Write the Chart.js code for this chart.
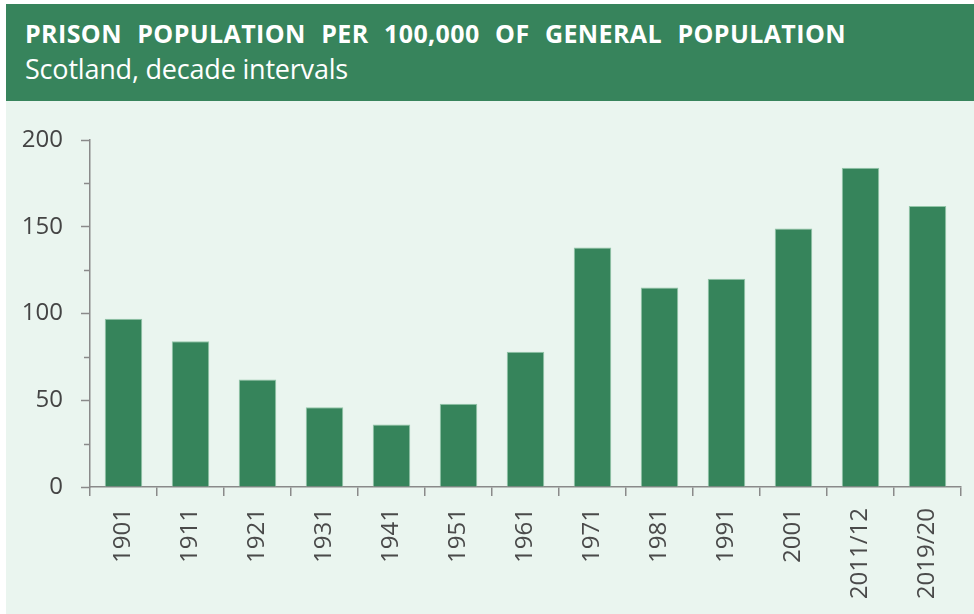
<!DOCTYPE html>
<html>
<head>
<meta charset="utf-8">
<script src="https://cdn.jsdelivr.net/npm/chart.js@4"></script>
<style>
  html, body { margin: 0; padding: 0; background: #ffffff; }
  body { width: 974px; height: 614px; position: relative; overflow: hidden; font-family: 'Open Sans', sans-serif; }
  #card { position: absolute; left: 6px; top: 4px; width: 968px; height: 610px; background: #eaf5ef; }
  #header { position: absolute; left: 6px; top: 4px; width: 968px; height: 97px; background: #37845c; color: #ffffff; }
  #title { position: absolute; left: 19px; top: 12px; font-weight: 700; font-size: 25px; letter-spacing: 0.4px; word-spacing: 8.5px; white-space: nowrap; line-height: 34px; }
  #subtitle { position: absolute; left: 19px; top: 48px; font-weight: 400; font-size: 27px; letter-spacing: -0.2px; white-space: nowrap; line-height: 34px; }
  #wrap { position: absolute; left: 6px; top: 101px; width: 968px; height: 513px; }
</style>
</head>
<body>
<div id="card"></div>
<div id="header">
  <div id="title">PRISON POPULATION PER 100,000 OF GENERAL POPULATION</div>
  <div id="subtitle">Scotland, decade intervals</div>
</div>
<div id="wrap"><canvas id="c" width="968" height="513"></canvas></div>
<script>
const categories = ['1901', '1911', '1921', '1931', '1941', '1951', '1961', '1971', '1981', '1991', '2001', '2011/12', '2019/20'];
const prisonRate = [97, 84, 62, 46, 36, 48, 78, 138, 115, 120, 149, 184, 162];
const yTickLabels = [0, 50, 100, 150, 200];

const minorTicks = {
  id: 'minorTicks',
  afterDraw(chart) {
    const y = chart.scales.y;
    const ctx = chart.ctx;
    ctx.save();
    ctx.strokeStyle = '#8a8a8a';
    ctx.lineWidth = 1.5;
    y.ticks.forEach(t => {
      if (!yTickLabels.includes(t.value)) {
        const py = Math.round(y.getPixelForValue(t.value)) + 0.5;
        ctx.beginPath();
        ctx.moveTo(y.right - 6, py);
        ctx.lineTo(y.right, py);
        ctx.stroke();
      }
    });
    ctx.restore();
  }
};

new Chart(document.getElementById('c'), {
  type: 'bar',
  data: {
    labels: categories,
    datasets: [{
      data: prisonRate,
      backgroundColor: '#36845b',
      borderColor: '#93c6a8',
      borderWidth: 1,
      categoryPercentage: 1,
      barPercentage: 0.56
    }]
  },
  options: {
    responsive: false,
    animation: false,
    layout: { padding: { top: 39, right: 13, left: 0, bottom: 0 } },
    plugins: { legend: { display: false }, tooltip: { enabled: false } },
    scales: {
      x: {
        afterFit(scale) { scale.height = 127; },
        border: { display: true, color: '#8a8a8a', width: 1.5 },
        grid: { display: true, drawOnChartArea: false, offset: true, tickLength: 9, color: '#8a8a8a', lineWidth: 1.5 },
        ticks: {
          minRotation: 90, maxRotation: 90, autoSkip: false, padding: 12,
          color: '#4a4a4a',
          font: { family: 'Open Sans', size: 24 }
        }
      },
      y: {
        min: 0, max: 200,
        afterFit(scale) { scale.width = 84; },
        border: { display: true, color: '#8a8a8a', width: 1.5 },
        grid: {
          display: true, drawOnChartArea: false, tickLength: 9,
          tickColor: (c) => yTickLabels.includes(c.tick.value) ? '#8a8a8a' : 'rgba(0,0,0,0)',
          tickWidth: 1.5
        },
        ticks: {
          stepSize: 25, autoSkip: false, padding: 18,
          color: '#444444',
          font: { family: 'Open Sans', size: 24 },
          callback: (v) => yTickLabels.includes(v) ? String(v) : ''
        }
      }
    }
  },
  plugins: [minorTicks]
});
</script>
</body>
</html>
